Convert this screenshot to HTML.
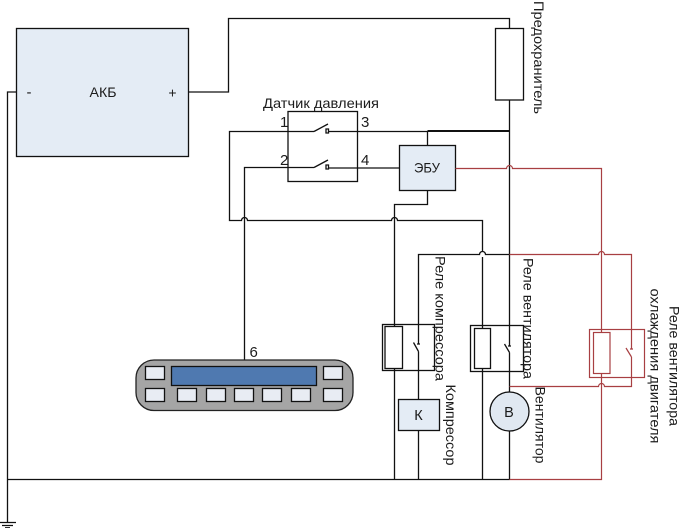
<!DOCTYPE html>
<html>
<head>
<meta charset="utf-8">
<style>
html,body{margin:0;padding:0;background:#fff;width:688px;height:528px;overflow:hidden}
svg{display:block}
text{font-family:"Liberation Sans","Noto Sans CJK SC",sans-serif;fill:#1c1c1c}
.w{fill:none;stroke:#111;stroke-width:1.3}
.r{fill:none;stroke:#a83f42;stroke-width:1.2}
.b{fill:#fff;stroke:#111;stroke-width:1.3}
.f{fill:#e4ecf5;stroke:#111;stroke-width:1.3}
.k{fill:#e8ecf3;stroke:#111;stroke-width:1.3}
</style>
</head>
<body>
<svg width="688" height="528" viewBox="0 0 688 528" xmlns="http://www.w3.org/2000/svg">
<!-- battery -->
<rect class="f" x="16.5" y="28.5" width="172" height="128"/>
<text x="103" y="97" font-size="14" text-anchor="middle" textLength="27" lengthAdjust="spacingAndGlyphs">АКБ</text>
<text x="29" y="97" font-size="15" text-anchor="middle">-</text>
<text x="172.500" y="97.500" font-size="14" text-anchor="middle">+</text>

<!-- main wires -->
<path class="w" d="M188.500 92H228.500V18.500H509.500V28.500"/>
<path class="w" d="M16.500 92H7.500V522"/>
<path class="w" d="M7.500 479.500H509.500"/>
<path class="w" d="M509.500 100V346"/>
<path class="r" d="M509.500 386V386"/>
<path class="w" d="M509.500 352.500V392M509.500 352.500L504.500 344M508 346H511"/>
<path class="w" d="M509.500 431V479.500"/>

<!-- ground -->
<path class="w" d="M0 522.500H16M2 525.500H13M5 527.800H10"/>

<!-- fuse -->
<rect class="b" x="495.500" y="28.500" width="28" height="71.500"/>
<text transform="translate(534,1) rotate(90)" font-size="14" textLength="113" lengthAdjust="spacingAndGlyphs">Предохранитель</text>

<!-- pressure sensor -->
<rect x="288" y="111.500" width="69.500" height="70" fill="none" stroke="#111" stroke-width="1.3"/>
<text x="321" y="108" font-size="14" text-anchor="middle" textLength="116" lengthAdjust="spacingAndGlyphs">Датчик давления</text>
<text x="280" y="127" font-size="15">1</text>
<text x="280" y="165" font-size="15">2</text>
<text x="361" y="127" font-size="15">3</text>
<text x="361" y="165" font-size="15">4</text>
<path class="w" d="M314 131.500H229.500V220.500H241.500A3 3 0 0 1 247.500 220.500H391.500A3 3 0 0 1 397.500 220.500H482.500V251M482.500 257V479.500"/>
<path class="w" d="M314 131.500L328 124M326 129H328.500V133H326ZM328.500 131.500H427.500"/>
<path class="w" d="M244.500 360V167.500H314M314 167.500L328 160M326 165H328.500V169H326ZM328.500 168H399.500"/>
<path fill="none" stroke="#111" stroke-width="2" d="M427.500 131H509.500"/>
<path class="w" d="M427.500 131V145.500"/>

<!-- ECU -->
<rect class="f" x="399.500" y="145.500" width="56" height="45"/>
<text x="427" y="172.500" font-size="14" text-anchor="middle" textLength="26" lengthAdjust="spacingAndGlyphs">ЭБУ</text>
<path class="w" d="M427.500 190.500V204.500H394.500V479.500"/>

<!-- bus 254 -->
<path class="w" d="M418.500 344V254.500H479.500A3 3 0 0 1 485.500 254.500H509.500"/>
<path class="r" d="M509.500 254.500H598.500A3 3 0 0 1 604.500 254.500H631.500V349"/>

<!-- red -->
<path class="r" d="M455.500 168.500H506.500A3 3 0 0 1 512.500 168.500H601.500V479.500H509.500"/>
<path class="r" d="M631.500 357L626 348M630 349H633M631.500 357V386.500H604.500A3 3 0 0 0 598.500 386.500H509.500"/>

<!-- compressor relay -->
<rect x="382.500" y="324.500" width="52" height="46" fill="none" stroke="#111" stroke-width="1.3"/>
<rect class="b" x="385" y="326.500" width="17.500" height="42"/>
<path class="w" d="M418.500 351.500L413.500 342.500M417 344H420M418.500 351.500V399.500"/>
<text transform="translate(435.500,256) rotate(90)" font-size="14" textLength="125" lengthAdjust="spacingAndGlyphs">Реле компрессора</text>

<!-- compressor -->
<rect class="f" x="398.500" y="399.500" width="41" height="31"/>
<text x="418.500" y="420" font-size="14.500" text-anchor="middle">К</text>
<path class="w" d="M418.500 430.500V479.500"/>
<text transform="translate(446,384.500) rotate(90)" font-size="14" textLength="81" lengthAdjust="spacingAndGlyphs">Компрессор</text>

<!-- fan relay -->
<rect x="470.500" y="325.500" width="53" height="46" fill="none" stroke="#111" stroke-width="1.3"/>
<rect class="b" x="474.500" y="328.500" width="16" height="40"/>
<text transform="translate(523.500,258) rotate(90)" font-size="14" textLength="121" lengthAdjust="spacingAndGlyphs">Реле вентилятора</text>

<!-- fan -->
<circle cx="509.500" cy="411.500" r="19.500" fill="#e0e8f1" stroke="#111" stroke-width="1.3"/>
<text x="509" y="416.800" font-size="14.500" text-anchor="middle">В</text>
<text transform="translate(535.500,386.500) rotate(90)" font-size="14" textLength="77" lengthAdjust="spacingAndGlyphs">Вентилятор</text>

<!-- cooling fan relay -->
<rect x="589.500" y="329.500" width="55" height="48" fill="none" stroke="#a83f42" stroke-width="1.2"/>
<rect x="593.500" y="332.500" width="16.500" height="41" fill="#fff" stroke="#a83f42" stroke-width="1.2"/>
<text transform="translate(669.500,306) rotate(90)" font-size="14" textLength="120" lengthAdjust="spacingAndGlyphs">Реле вентилятора</text>
<text transform="translate(650.500,288.500) rotate(90)" font-size="14" textLength="155" lengthAdjust="spacingAndGlyphs">охлаждения двигателя</text>

<!-- control panel -->
<rect x="136" y="360" width="217" height="50.500" rx="18" ry="18" fill="#a5a5a5" stroke="#222" stroke-width="1.3"/>
<rect x="171.500" y="366.500" width="145" height="19" fill="#4f79b0" stroke="#111" stroke-width="1.3"/>
<rect class="k" x="145.500" y="366.500" width="19" height="13"/>
<rect class="k" x="323.500" y="366.500" width="19" height="13"/>
<rect class="k" x="145.500" y="388.500" width="19" height="13"/>
<rect class="k" x="177.500" y="388.500" width="19" height="13"/>
<rect class="k" x="206.500" y="388.500" width="19" height="13"/>
<rect class="k" x="234.500" y="388.500" width="19" height="13"/>
<rect class="k" x="262.500" y="388.500" width="19" height="13"/>
<rect class="k" x="291.500" y="388.500" width="19" height="13"/>
<rect class="k" x="323.500" y="388.500" width="19" height="13"/>
<text x="249.500" y="357" font-size="15">6</text>
</svg>
</body>
</html>
